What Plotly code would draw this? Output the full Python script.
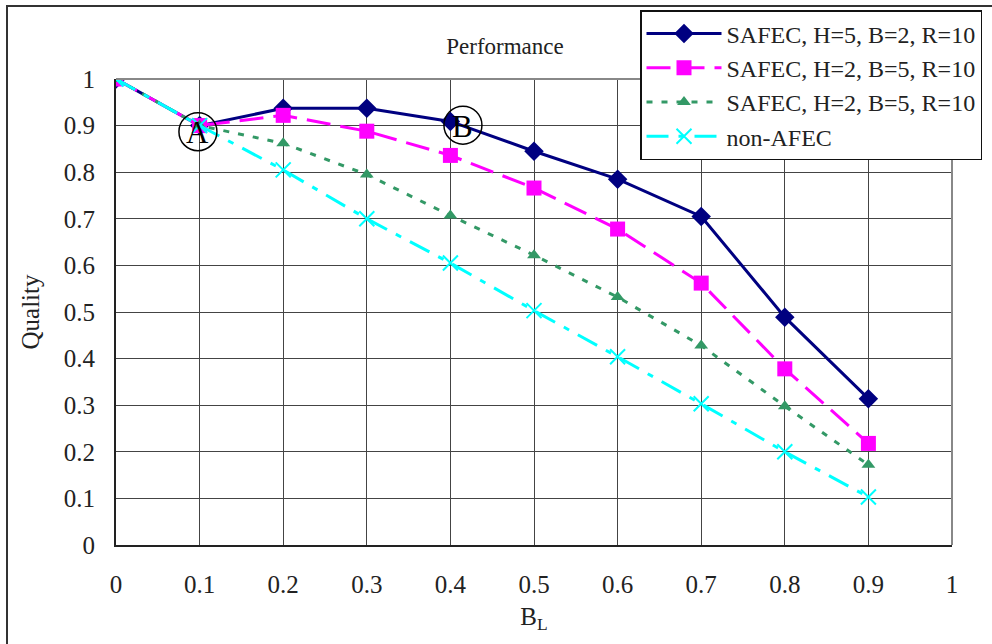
import plotly.graph_objects as go

x_vals = [0, 0.1, 0.2, 0.3, 0.4, 0.5, 0.6, 0.7, 0.8, 0.9]
s1 = [1.0, 0.90, 0.937, 0.937, 0.909, 0.845, 0.785, 0.705, 0.489, 0.314]
s2 = [1.0, 0.90, 0.922, 0.888, 0.836, 0.766, 0.678, 0.562, 0.378, 0.218]
s3 = [1.0, 0.90, 0.862, 0.795, 0.707, 0.622, 0.532, 0.428, 0.298, 0.172]
s4 = [1.0, 0.90, 0.805, 0.70, 0.605, 0.503, 0.404, 0.303, 0.20, 0.103]
names = ["SAFEC, H=5, B=2, R=10", "SAFEC, H=2, B=5, R=10",
         "SAFEC, H=2, B=5, R=10", "non-AFEC"]
tick_vals = [0, 0.1, 0.2, 0.3, 0.4, 0.5, 0.6, 0.7, 0.8, 0.9, 1]
tick_text = ["0", "0.1", "0.2", "0.3", "0.4", "0.5", "0.6", "0.7", "0.8", "0.9", "1"]
marks = [("A", 0.098, 0.887), ("B", 0.415, 0.901)]

FONT = "Liberation Serif"
W, H = 992, 644
L, R, T, B = 116, 40, 79, 99
PW, PH = W - L - R, H - T - B

fig = go.Figure()
fig.add_trace(go.Scatter(x=x_vals, y=s1, name=names[0], mode="lines+markers",
                         line=dict(color="#000080", width=3),
                         marker=dict(symbol="diamond", size=15, color="#000080")))
fig.add_trace(go.Scatter(x=x_vals, y=s2, name=names[1], mode="lines+markers",
                         line=dict(color="#FF00FF", width=3, dash="24px,10px"),
                         marker=dict(symbol="square", size=15, color="#FF00FF")))
fig.add_trace(go.Scatter(x=x_vals, y=s3, name=names[2], mode="lines+markers",
                         line=dict(color="#339966", width=3, dash="6px,9px"),
                         marker=dict(symbol="triangle-up", size=12, color="#339966")))
fig.add_trace(go.Scatter(x=x_vals, y=s4, name=names[3], mode="lines+markers",
                         line=dict(color="#00FFFF", width=3, dash="22px,10px,6px,10px"),
                         marker=dict(symbol="x-thin-open", size=15,
                                     line=dict(color="#00FFFF", width=2))))

def px(xw):
    return (xw - L) / PW

def py(yw):
    return (T + PH - yw) / PH

shapes = [
    dict(type="rect", xref="paper", yref="paper", x0=px(7), x1=px(1100), y0=py(700), y1=py(6),
         line=dict(color="#333333", width=2), layer="below"),
    dict(type="line", xref="paper", yref="paper", x0=0, x1=1, y0=1, y1=1,
         line=dict(color="#888888", width=2)),
    dict(type="line", xref="paper", yref="paper", x0=1, x1=1, y0=0, y1=1,
         line=dict(color="#888888", width=2)),
]
annotations = []
for lab, cx, cy in marks:
    shapes.append(dict(type="circle", xref="x", yref="y", xsizemode="pixel", ysizemode="pixel",
                       xanchor=cx, yanchor=cy, x0=-19, x1=19, y0=-19, y1=19,
                       line=dict(color="black", width=1.5)))
    annotations.append(dict(x=cx, y=cy, xref="x", yref="y", text=lab, showarrow=False,
                            font=dict(family=FONT, size=31, color="black"), yshift=-1))

fig.update_layout(
    width=W, height=H,
    margin=dict(l=L, r=R, t=T, b=B, autoexpand=False),
    paper_bgcolor="white", plot_bgcolor="white",
    font=dict(family=FONT, size=25, color="#222222"),
    title=dict(text="Performance", x=505 / W, xanchor="center",
               y=1 - 46 / H, yanchor="middle",
               font=dict(family=FONT, size=23, color="#222222")),
    xaxis=dict(range=[0, 1], tickvals=tick_vals, ticktext=tick_text,
               tickfont=dict(family=FONT, size=25, color="#222222"),
               showgrid=True, gridcolor="#444444", gridwidth=1,
               showline=True, linecolor="#222222", linewidth=2, zeroline=False,
               ticks="", ticklabelstandoff=16, automargin=False,
               title=dict(text="B<sub>L</sub>", font=dict(family=FONT, size=25), standoff=10)),
    yaxis=dict(range=[0, 1], tickvals=tick_vals, ticktext=tick_text,
               tickfont=dict(family=FONT, size=25, color="#222222"),
               showgrid=True, gridcolor="#444444", gridwidth=1,
               showline=True, linecolor="#222222", linewidth=2, zeroline=False,
               ticks="", ticklabelstandoff=14, automargin=False,
               title=dict(text="Quality", font=dict(family=FONT, size=25), standoff=17)),
    legend=dict(x=px(640), y=py(10), xanchor="left", yanchor="top",
                bgcolor="white", bordercolor="#111111", borderwidth=1.5,
                font=dict(family=FONT, size=24, color="#222222"),
                itemwidth=75, tracegroupgap=0),
    shapes=shapes, annotations=annotations,
    showlegend=True,
)

fig.write_html("out.html", config={"displayModeBar": False},
               post_script="document.body.style.margin='0';document.body.style.overflow='hidden';")
